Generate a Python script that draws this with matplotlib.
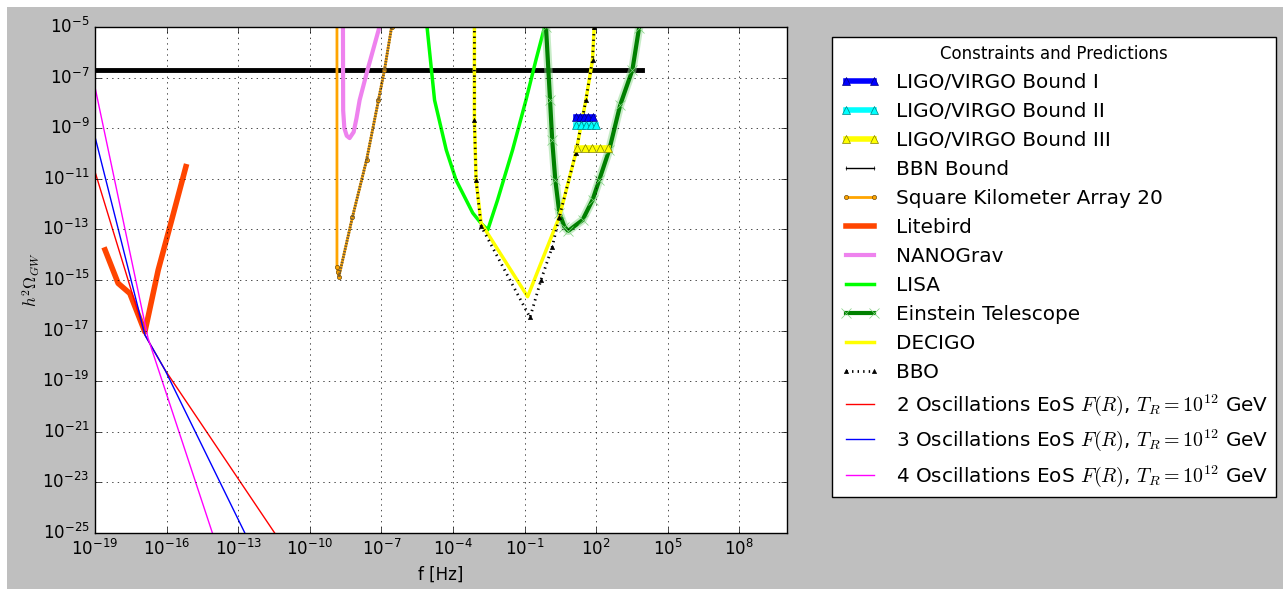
"""Gravitational wave energy spectrum vs detector sensitivities."""

import matplotlib
matplotlib.use("Agg")
import matplotlib.pyplot as plt
from matplotlib.patches import Rectangle
import numpy as np

# values, as log10(f / Hz) and log10(h^2 Omega_GW)
ligo1_logf = [1.15, 1.33, 1.50, 1.68, 1.85]
ligo1_logo = [-8.56, -8.56, -8.56, -8.56, -8.56]
ligo2_logf = [1.15, 1.36, 1.57, 1.78, 1.99]
ligo2_logo = [-8.87, -8.87, -8.87, -8.87, -8.87]
ligo3_logf = [1.20, 1.52, 1.84, 2.16, 2.48]
ligo3_logo = [-9.78, -9.78, -9.78, -9.78, -9.78]

bbn_logf = [-19.0, 3.93]
bbn_logo = [-6.70, -6.70]

ska_logf = [-8.86, -8.86, -8.82, -8.78, -8.21, -7.62, -7.12, -6.87, -6.57, -6.50]
ska_logo = [-4.5, -14.47, -14.70, -14.87, -12.51, -10.26, -7.89, -6.70, -5.0, -4.7]

litebird_logf = [-18.58, -18.03, -17.54, -16.91, -16.35, -15.86, -15.19]
litebird_logo = [-13.81, -15.13, -15.53, -17.05, -14.60, -12.89, -10.52]

nanograv_logf = [-8.61, -8.60, -8.55, -8.45, -8.33, -8.16, -8.04, -7.91, -7.58, -7.08, -7.00]
nanograv_logo = [-4.5, -8.30, -9.00, -9.30, -9.39, -9.15, -8.60, -7.89, -6.70, -5.0, -4.7]

lisa_logf = [-5.10, -5.08, -4.77, -4.28, -3.87, -3.17, -2.82, -2.54,
             -2.13, -1.50, -0.94, -0.52, -0.17, -0.10]
lisa_logo = [-4.7, -5.04, -7.89, -9.86, -11.05, -12.35, -12.76, -13.02,
             -11.84, -9.86, -7.89, -6.30, -5.04, -4.7]

et_logf = [-0.12, -0.10, 0.07, 0.16, 0.29, 0.46, 0.67, 0.83, 1.43, 1.85,
           2.13, 2.55, 3.01, 3.52, 3.80, 3.86]
et_logo = [-4.7, -5.0, -7.89, -9.47, -11.05, -12.35, -12.89, -13.06, -12.63,
           -11.84, -11.05, -9.86, -8.08, -6.70, -5.04, -4.7]

decigo_logf = [-3.10, -3.10, -3.03, -2.82, -0.87, 0.46, 1.15, 1.57, 1.85, 1.92, 1.94]
decigo_logo = [-4.5, -8.68, -11.05, -12.75, -15.66, -12.50, -9.98, -7.89, -6.30, -5.0, -4.7]

bbo_logf = [-3.10, -3.10, -3.03, -2.82, -0.77, -0.31, 0.16, 0.46, 1.15, 1.57, 1.85, 1.92, 1.94]
bbo_logo = [-4.5, -8.68, -11.05, -12.87, -16.48, -15.00, -13.70, -12.50, -9.98,
            -7.89, -6.30, -5.0, -4.7]

osc2_logf = [-19.0, -16.91, -16.07, -11.47]
osc2_logo = [-10.72, -17.17, -18.55, -25.0]
osc3_logf = [-19.0, -16.91, -16.07, -12.72]
osc3_logo = [-9.34, -17.17, -18.55, -25.0]
osc4_logf = [-19.0, -16.78, -14.08]
osc4_logo = [-7.38, -17.29, -25.0]

xtick_exps = [-19, -16, -13, -10, -7, -4, -1, 2, 5, 8]
ytick_exps = [-5, -7, -9, -11, -13, -15, -17, -19, -21, -23, -25]


def p(vals):
    """log10 exponents back to linear values"""
    return 10.0 ** np.array(vals)


plt.style.use("classic")
fig = plt.figure(figsize=(12.83, 5.89), dpi=100, facecolor="white")
# grey canvas with a thin white strip at left and top, as in the source image
fig.patches.append(Rectangle((7 / 1283, 0), 1, 1 - 7 / 589, transform=fig.transFigure,
                             facecolor="0.75", edgecolor="none", zorder=-10))
ax = fig.add_axes([95 / 1283, 56 / 589, 692 / 1283, 506 / 589])

ax.plot(p(ligo1_logf), p(ligo1_logo), color="blue", lw=4, marker="^", ms=6,
        mfc="blue", mec="navy", label="LIGO/VIRGO Bound I", zorder=6)
ax.plot(p(ligo2_logf), p(ligo2_logo), color="cyan", lw=4, marker="^", ms=6,
        mfc="cyan", mec="teal", label="LIGO/VIRGO Bound II", zorder=6)
ax.plot(p(ligo3_logf), p(ligo3_logo), color="yellow", lw=4, marker="^", ms=6,
        mfc="yellow", mec="olive", label="LIGO/VIRGO Bound III", zorder=6)

ax.plot(p(bbn_logf), p(bbn_logo), color="black", lw=3.5)
ax.plot(p(bbn_logf), p(bbn_logo), color="black", lw=1, marker="|", ms=3,
        label="BBN Bound")

ax.plot(p(ska_logf), p(ska_logo), color="orange", lw=2, marker="o", ms=3,
        mfc="orange", mec="#6b4a10", label="Square Kilometer Array 20")
ax.plot(p(ska_logf[3:]), p(ska_logo[3:]), color="#6b5a3a", lw=2, ls=(0, (1, 1)))

ax.plot(p(litebird_logf), p(litebird_logo), color="orangered", lw=4, label="Litebird")
ax.plot(p(nanograv_logf), p(nanograv_logo), color="violet", lw=3, label="NANOGrav")
ax.plot(p(lisa_logf), p(lisa_logo), color="lime", lw=2.5, label="LISA")

ax.plot(p(et_logf), p(et_logo), color="#8fd88f", lw=6, alpha=0.5)
ax.plot(p(et_logf), p(et_logo), color="green", lw=3, marker="x", ms=7,
        mec="#7fcf7f", label="Einstein Telescope")

ax.plot(p(decigo_logf), p(decigo_logo), color="yellow", lw=2.5, label="DECIGO")
ax.plot(p(bbo_logf), p(bbo_logo), color="black", lw=2, ls=":", marker="^", ms=3,
        label="BBO")

tr_label = r"Oscillations EoS $F(R)$, $T_R=10^{12}$ GeV"
ax.plot(p(osc2_logf), p(osc2_logo), color="red", lw=1, label="2 " + tr_label)
ax.plot(p(osc3_logf), p(osc3_logo), color="blue", lw=1, label="3 " + tr_label)
ax.plot(p(osc4_logf), p(osc4_logo), color="magenta", lw=1, label="4 " + tr_label)

ax.set_xscale("log")
ax.set_yscale("log")
ax.set_xlim(1e-19, 1e10)
ax.set_ylim(1e-25, 1e-5)
ax.set_xticks(p(xtick_exps))
ax.set_yticks(p(ytick_exps))
ax.minorticks_off()
ax.grid(True)
ax.set_xlabel("f [Hz]")
ax.set_ylabel(r"$h^2\Omega_{GW}$", labelpad=0)

leg = ax.legend(loc="upper left", bbox_to_anchor=(1.065, 0.98), borderaxespad=0,
                title="Constraints and Predictions", numpoints=2, fontsize=14.4)
leg.get_title().set_fontsize(12)

fig.savefig("out.png", dpi=100, facecolor="white")
